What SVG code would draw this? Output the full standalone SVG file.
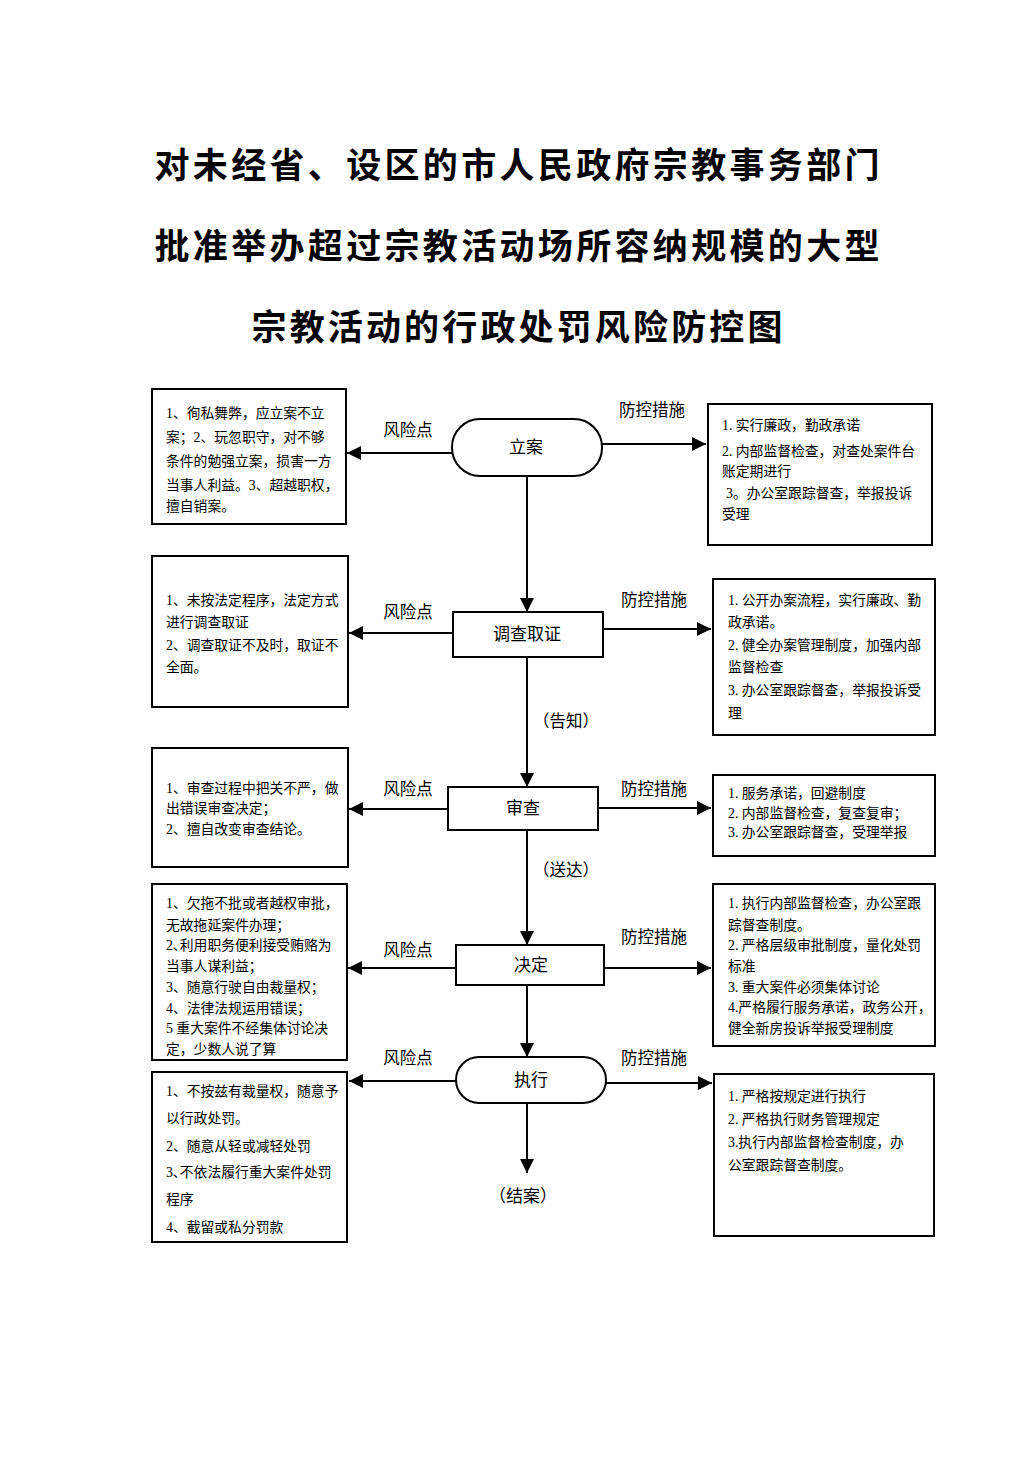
<svg xmlns="http://www.w3.org/2000/svg" width="1033" height="1461" viewBox="0 0 1033 1461">
<style>
.title{font-family:"Noto Sans CJK SC","Noto Sans CJK JP",sans-serif;font-size:35px;font-weight:bold;fill:#000}
.box{fill:#fff;stroke:#000;stroke-width:2}
.node{fill:#fff;stroke:#000;stroke-width:2}
.t{font-family:"Liberation Serif","Noto Sans CJK SC",serif;font-size:13.8px;fill:#000}
.nl{font-family:"Liberation Serif","Noto Sans CJK SC",serif;font-size:17px;fill:#000;text-anchor:middle;dominant-baseline:central}
.lab{font-family:"Liberation Serif","Noto Sans CJK SC",serif;font-size:16.5px;fill:#000;text-anchor:middle;dominant-baseline:central}
.ln{stroke:#000;stroke-width:2;fill:none}
</style>
<defs>
<marker id="ahb" viewBox="0 0 10 10" refX="10" refY="5" markerWidth="7" markerHeight="7" orient="auto">
<path d="M0,0 L10,5 L0,10 z" fill="#000"/>
</marker>
</defs>
<rect width="1033" height="1461" fill="#fff"/>
<g id="title">
<text class="title" x="517" y="178" text-anchor="middle" textLength="725">对未经省、设区的市人民政府宗教事务部门</text>
<text class="title" x="517" y="259" text-anchor="middle" textLength="725">批准举办超过宗教活动场所容纳规模的大型</text>
<text class="title" x="517" y="340" text-anchor="middle" textLength="531">宗教活动的行政处罚风险防控图</text>
</g>
<g id="connectors">
<line class="ln" x1="527" y1="476" x2="527" y2="612" marker-end="url(#ahb)"/>
<line class="ln" x1="527" y1="657" x2="527" y2="787" marker-end="url(#ahb)"/>
<line class="ln" x1="527" y1="830" x2="527" y2="945" marker-end="url(#ahb)"/>
<line class="ln" x1="527" y1="985" x2="527" y2="1057" marker-end="url(#ahb)"/>
<line class="ln" x1="527" y1="1103" x2="527" y2="1173" marker-end="url(#ahb)"/>
<line class="ln" x1="452" y1="453" x2="347" y2="453" marker-end="url(#ahb)"/>
<line class="ln" x1="588" y1="444" x2="706" y2="444" marker-end="url(#ahb)"/>
<line class="ln" x1="453" y1="633" x2="349" y2="633" marker-end="url(#ahb)"/>
<line class="ln" x1="603" y1="629" x2="711" y2="629" marker-end="url(#ahb)"/>
<line class="ln" x1="448" y1="809" x2="349" y2="809" marker-end="url(#ahb)"/>
<line class="ln" x1="598" y1="808" x2="711" y2="808" marker-end="url(#ahb)"/>
<line class="ln" x1="456" y1="968" x2="348" y2="968" marker-end="url(#ahb)"/>
<line class="ln" x1="604" y1="968" x2="711" y2="968" marker-end="url(#ahb)"/>
<line class="ln" x1="456" y1="1081" x2="349" y2="1081" marker-end="url(#ahb)"/>
<line class="ln" x1="606" y1="1083" x2="712" y2="1083" marker-end="url(#ahb)"/>
<text class="lab" x="408" y="430">风险点</text>
<text class="lab" x="652" y="410">防控措施</text>
<text class="lab" x="408" y="612">风险点</text>
<text class="lab" x="654" y="600">防控措施</text>
<text class="lab" x="408" y="789">风险点</text>
<text class="lab" x="654" y="789">防控措施</text>
<text class="lab" x="408" y="950">风险点</text>
<text class="lab" x="654" y="937">防控措施</text>
<text class="lab" x="408" y="1058">风险点</text>
<text class="lab" x="654" y="1058">防控措施</text>
<text class="lab" x="566" y="721" font-size="15">（告知）</text>
<text class="lab" x="566" y="870" font-size="15">（送达）</text>
</g>
<g id="n-lian">
<rect class="node" x="452" y="419" width="150" height="57" rx="28" ry="28"/>
<text class="nl" x="526" y="447">立案</text>
</g>
<g id="n-diaocha">
<rect class="node" x="453" y="612" width="150" height="45"/>
<text class="nl" x="527" y="634">调查取证</text>
</g>
<g id="n-shencha">
<rect class="node" x="448" y="787" width="150" height="43"/>
<text class="nl" x="523" y="808">审查</text>
</g>
<g id="n-jueding">
<rect class="node" x="456" y="945" width="148" height="40"/>
<text class="nl" x="531" y="965">决定</text>
</g>
<g id="n-zhixing">
<rect class="node" x="456" y="1057" width="150" height="46" rx="23" ry="23"/>
<text class="nl" x="531" y="1080">执行</text>
</g>
<g id="n-jiean">
<text class="nl" x="523" y="1196" font-size="18">（结案）</text>
</g>
<g id="risk1">
<rect class="box" x="152" y="389" width="194" height="135"/>
<text class="t" x="166" y="418">1、徇私舞弊，应立案不立</text>
<text class="t" x="166" y="442">案；2、玩忽职守，对不够</text>
<text class="t" x="166" y="466">条件的勉强立案，损害一方</text>
<text class="t" x="166" y="490">当事人利益。3、超越职权，</text>
<text class="t" x="166" y="511">擅自销案。</text>
</g>
<g id="measure1">
<rect class="box" x="708" y="404" width="224" height="141"/>
<text class="t" x="722" y="430">1. 实行廉政，勤政承诺</text>
<text class="t" x="722" y="456">2. 内部监督检查，对查处案件台</text>
<text class="t" x="722" y="476">账定期进行</text>
<text class="t" x="726" y="498">3。办公室跟踪督查，举报投诉</text>
<text class="t" x="722" y="519">受理</text>
</g>
<g id="risk2">
<rect class="box" x="152" y="556" width="196" height="151"/>
<text class="t" x="166" y="605">1、未按法定程序，法定方式</text>
<text class="t" x="166" y="627">进行调查取证</text>
<text class="t" x="166" y="650">2、调查取证不及时，取证不</text>
<text class="t" x="166" y="672">全面。</text>
</g>
<g id="measure2">
<rect class="box" x="713" y="579" width="222" height="156"/>
<text class="t" x="728" y="605">1. 公开办案流程，实行廉政、勤</text>
<text class="t" x="728" y="627">政承诺。</text>
<text class="t" x="728" y="650">2. 健全办案管理制度，加强内部</text>
<text class="t" x="728" y="672">监督检查</text>
<text class="t" x="728" y="695">3. 办公室跟踪督查，举报投诉受</text>
<text class="t" x="728" y="718">理</text>
</g>
<g id="risk3">
<rect class="box" x="152" y="748" width="196" height="119"/>
<text class="t" x="166" y="793">1、审查过程中把关不严，做</text>
<text class="t" x="166" y="813">出错误审查决定；</text>
<text class="t" x="166" y="834">2、擅自改变审查结论。</text>
</g>
<g id="measure3">
<rect class="box" x="713" y="775" width="222" height="81"/>
<text class="t" x="728" y="798">1.  服务承诺，回避制度</text>
<text class="t" x="728" y="818">2.  内部监督检查，复查复审；</text>
<text class="t" x="728" y="837">3.  办公室跟踪督查，受理举报</text>
</g>
<g id="risk4">
<rect class="box" x="152" y="884" width="195" height="176"/>
<text class="t" x="166" y="908">1、欠拖不批或者越权审批，</text>
<text class="t" x="166" y="930">无故拖延案件办理；</text>
<text class="t" x="166" y="950">2､利用职务便利接受贿赂为</text>
<text class="t" x="166" y="971">当事人谋利益；</text>
<text class="t" x="166" y="992">3、随意行驶自由裁量权；</text>
<text class="t" x="166" y="1013">4、法律法规运用错误；</text>
<text class="t" x="166" y="1033">5 重大案件不经集体讨论决</text>
<text class="t" x="166" y="1054">定，少数人说了算</text>
</g>
<g id="measure4">
<rect class="box" x="713" y="884" width="222" height="162"/>
<text class="t" x="728" y="908">1. 执行内部监督检查，办公室跟</text>
<text class="t" x="728" y="930">踪督查制度。</text>
<text class="t" x="728" y="950">2. 严格层级审批制度，量化处罚</text>
<text class="t" x="728" y="971">标准</text>
<text class="t" x="728" y="992">3.  重大案件必须集体讨论</text>
<text class="t" x="728" y="1012">4.严格履行服务承诺，政务公开，</text>
<text class="t" x="728" y="1033">健全新房投诉举报受理制度</text>
</g>
<g id="risk5">
<rect class="box" x="152" y="1072" width="195" height="170"/>
<text class="t" x="166" y="1096">1、不按兹有裁量权，随意予</text>
<text class="t" x="166" y="1123">以行政处罚。</text>
<text class="t" x="166" y="1151">2、随意从轻或减轻处罚</text>
<text class="t" x="166" y="1177">3､不依法履行重大案件处罚</text>
<text class="t" x="166" y="1204">程序</text>
<text class="t" x="166" y="1232">4、截留或私分罚款</text>
</g>
<g id="measure5">
<rect class="box" x="714" y="1074" width="220" height="162"/>
<text class="t" x="728" y="1101">1.  严格按规定进行执行</text>
<text class="t" x="728" y="1124">2.  严格执行财务管理规定</text>
<text class="t" x="728" y="1147">3.执行内部监督检查制度，办</text>
<text class="t" x="728" y="1170">公室跟踪督查制度。</text>
</g>
</svg>
